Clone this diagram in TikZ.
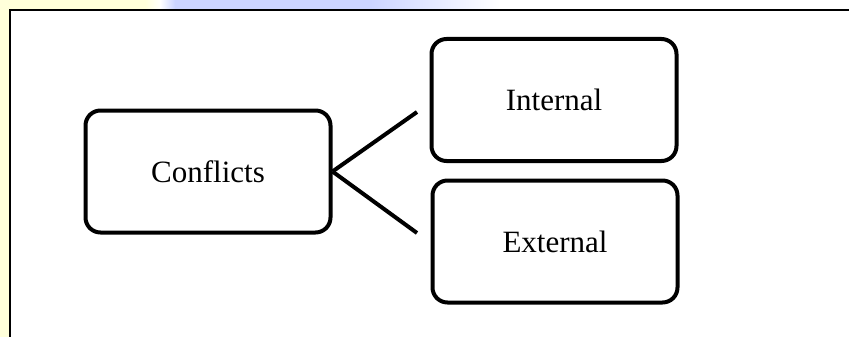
\documentclass[tikz,border=0pt]{standalone}
\usepackage{fontspec}
\setmainfont{Liberation Serif}
\definecolor{slideyellow}{RGB}{255,255,218}
\definecolor{slideblue}{RGB}{204,212,255}
\tikzset{
  topicbox/.style={draw, line width=4pt, rounded corners=15pt, fill=white,
    minimum width=245pt, minimum height=122pt, inner sep=0pt,
    font=\fontsize{31}{37}\selectfont},
  branch/.style={line width=4pt}
}
\begin{document}
\begin{tikzpicture}[x=1pt,y=-1pt]

                  % Page area
                  \useasboundingbox (0,0) rectangle (849,337);
                  \clip (0,0) rectangle (849,337);

                  % Slide background strips
                  \fill[white] (0,0) rectangle (849,337);
                  \fill[slideyellow] (0,0) rectangle (10,337);
                  \fill[slideyellow] (0,0) rectangle (155,10);
                  \shade[left color=slideyellow, right color=white] (145,0) rectangle (162,10);
                  \shade[left color=white, right color=slideblue] (160,0) rectangle (175,10);
                  \fill[slideblue] (175,0) rectangle (370,10);
                  \shade[left color=slideblue, right color=white] (370,0) rectangle (500,10);

                  % Frame of the picture
                  \draw[line width=2pt] (10,345) -- (10,10) -- (860,10);

                  % Boxes
                  \node[topicbox] (conflicts) at (208,171.5) {Conflicts};
                  \node[topicbox] (internal) at (554,100) {Internal};
                  \node[topicbox] (external) at (555,241.5) {External};

                  % Branches (they stop short of the boxes)
                  \coordinate (toint) at (417,112);
                  \coordinate (toext) at (417,233);
                  \draw[branch] (conflicts.east) -- (toint);
                  \draw[branch] (conflicts.east) -- (toext);
              \end{tikzpicture}
\end{document}
